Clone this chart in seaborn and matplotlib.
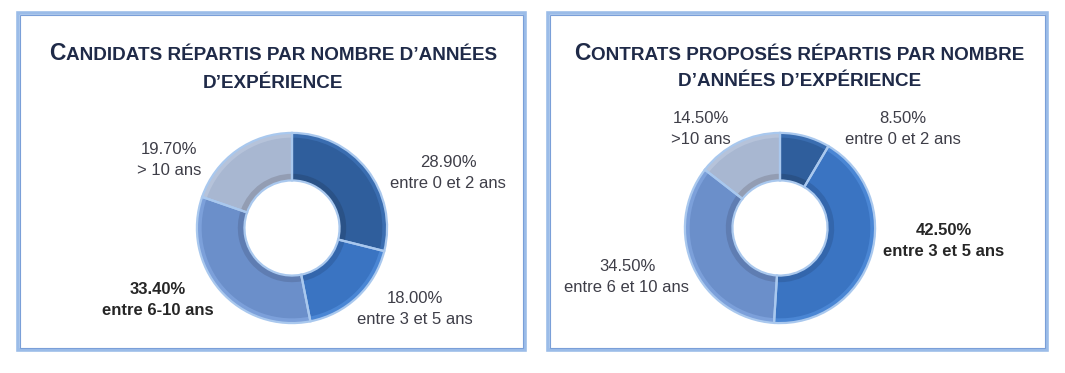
import matplotlib
matplotlib.use("Agg")
import matplotlib.pyplot as plt
import seaborn as sns
from matplotlib.patches import Rectangle
from matplotlib.offsetbox import TextArea, HPacker, AnnotationBbox

# data
cand_labels = ["entre 0 et 2 ans", "entre 3 et 5 ans", "entre 6-10 ans", "> 10 ans"]
cand_values = [28.9, 18.0, 33.4, 19.7]
contr_labels = ["entre 0 et 2 ans", "entre 3 et 5 ans", "entre 6 et 10 ans", ">10 ans"]
contr_values = [8.5, 42.5, 34.5, 14.5]

blues = ["#2F5E9C", "#3A74C2", "#6B8FCA", "#A8B7D1"]
blues_dark = ["#2A5287", "#3366AC", "#5F7DB2", "#939DB3"]
blues_light = ["#3A6DB0", "#4A86D4", "#7CA0DA", "#B6C3DA"]
navy = "#1F2A48"
grey = "#3E3E48"

sns.set_theme(style="white")
plt.rcParams['font.family'] = ['Liberation Sans', 'DejaVu Sans']

W, H = 1065, 373
fig = plt.figure(figsize=(W / 100, H / 100), dpi=100)
fig.patch.set_facecolor("white")


def fx(x):
    return x / W


def fy(y):
    return 1 - y / H


def panel_box(x0, x1, y0, y1):
    fig.add_artist(Rectangle((fx(x0), fy(y1)), fx(x1 - x0), (y1 - y0) / H,
                             transform=fig.transFigure, fill=False,
                             edgecolor="#9BBCE8", lw=2.6))
    fig.add_artist(Rectangle((fx(x0 + 2), fy(y1 - 2)), fx(x1 - x0 - 4), (y1 - y0 - 4) / H,
                             transform=fig.transFigure, fill=False,
                             edgecolor="#7A9FD8", lw=0.8))


def title_line(cx, cy, text, cap_first):
    if cap_first:
        kids = [TextArea(text[0], textprops=dict(size=16.5, weight="bold", color=navy)),
                TextArea(text[1:], textprops=dict(size=13.6, weight="bold", color=navy))]
    else:
        kids = [TextArea(text, textprops=dict(size=13.6, weight="bold", color=navy))]
    box = HPacker(children=kids, align="baseline", pad=0, sep=0)
    ab = AnnotationBbox(box, (cx, H - cy), xycoords="figure pixels",
                        frameon=False, box_alignment=(0.5, 0.5))
    fig.add_artist(ab)


def donut(cx, cy, r, values):
    ax = fig.add_axes([fx(cx - r), fy(cy + r), 2 * r / W, 2 * r / H])
    # base ring
    ax.pie(values, colors=blues, startangle=90, counterclock=False, radius=1,
           wedgeprops=dict(width=0.5, edgecolor="none"))
    # lighter outer rim and darker inner rim give the bevel look
    ax.pie(values, colors=blues_light, startangle=90, counterclock=False, radius=1,
           wedgeprops=dict(width=0.05, edgecolor="none"))
    ax.pie(values, colors=blues_dark, startangle=90, counterclock=False, radius=0.57,
           wedgeprops=dict(width=0.07, edgecolor="none"))
    # light separators
    ax.pie(values, colors=["none"] * len(values), startangle=90, counterclock=False,
           radius=1, wedgeprops=dict(width=0.5, edgecolor="#A9C8EE", linewidth=1.6))
    ax.set_xlim(-1.02, 1.02)
    ax.set_ylim(-1.02, 1.02)
    ax.set_aspect("equal")
    ax.axis("off")
    return ax


def label(cx, cy, value, text, bold=False):
    fig.text(fx(cx), fy(cy), f"{value:.2f}%\n{text}", ha="center", va="center",
             fontsize=12, linespacing=1.55, color="#262626" if bold else grey,
             fontweight="bold" if bold else "normal")


# left panel
panel_box(18, 525, 13, 350)
title_line(273, 54, "CANDIDATS RÉPARTIS PAR NOMBRE D’ANNÉES", True)
title_line(273, 83, "D’EXPÉRIENCE", False)
donut(292, 228, 97, cand_values)
label(448, 173, cand_values[0], cand_labels[0])
label(415, 309, cand_values[1], cand_labels[1])
label(158, 300, cand_values[2], cand_labels[2], bold=True)
label(169, 160, cand_values[3], cand_labels[3])

# right panel
panel_box(548, 1047, 13, 350)
title_line(799, 54, "CONTRATS PROPOSÉS RÉPARTIS PAR NOMBRE", True)
title_line(800, 82, "D’ANNÉES D’EXPÉRIENCE", False)
donut(780, 228, 97, contr_values)
label(903, 129, contr_values[0], contr_labels[0])
label(944, 241, contr_values[1], contr_labels[1], bold=True)
label(627, 277, contr_values[2], contr_labels[2])
label(701, 129, contr_values[3], contr_labels[3])

fig.savefig("out.png", dpi=100, facecolor="white")
